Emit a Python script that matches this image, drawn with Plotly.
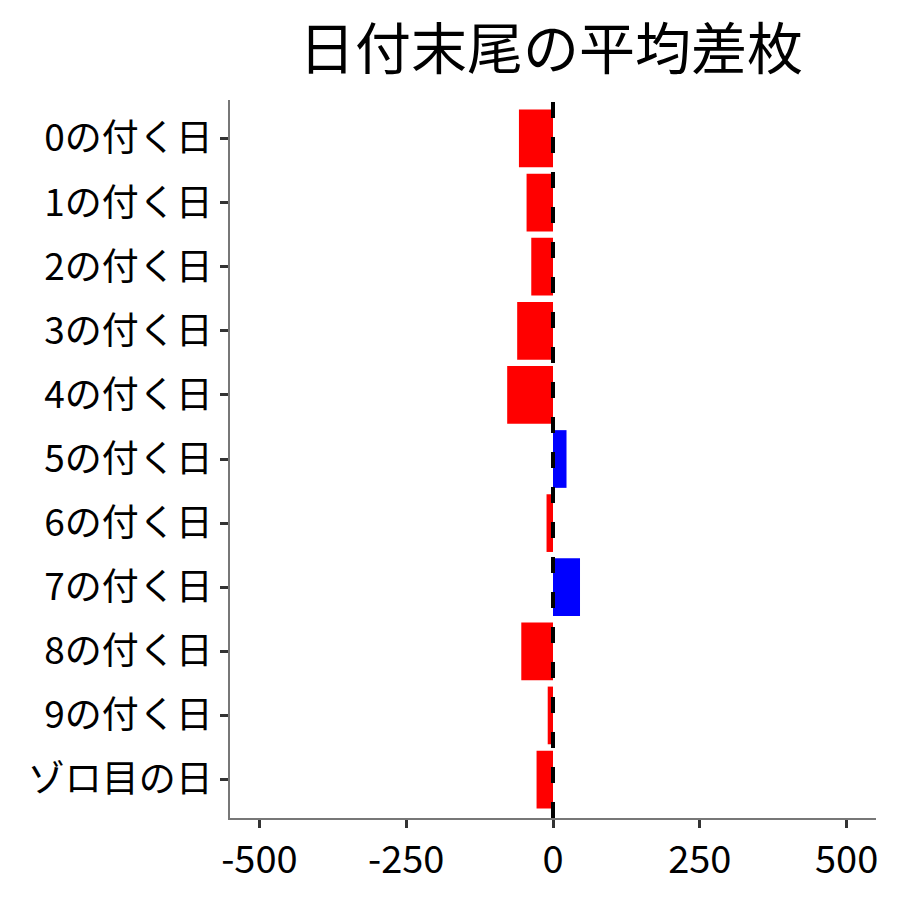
import plotly.graph_objects as go

categories = ["0の付く日", "1の付く日", "2の付く日", "3の付く日", "4の付く日",
              "5の付く日", "6の付く日", "7の付く日", "8の付く日", "9の付く日", "ゾロ目の日"]
avg_diff = [-58, -45, -37, -61, -78, 23, -11, 46, -54, -9, -28]
x_ticks = [-500, -250, 0, 250, 500]

colors = ["#0000FF" if v > 0 else "#FF0000" for v in avg_diff]

font = "Noto Sans CJK JP"

fig = go.Figure(go.Bar(
    x=avg_diff,
    y=categories,
    orientation="h",
    marker=dict(color=colors, line=dict(width=0)),
    width=0.9,
))

fig.add_shape(type="line", xref="x", yref="paper", x0=0, x1=0, y0=0, y1=1,
              line=dict(color="black", width=4, dash="16px,19px"), layer="above")

fig.update_layout(
    width=900, height=900,
    plot_bgcolor="white", paper_bgcolor="white",
    margin=dict(l=222, r=32, t=92, b=90),
    showlegend=False,
    font=dict(family=font, color="black", size=38),
    title=dict(text="日付末尾の平均差枚", x=(222 + 864) / 2 / 900, xanchor="center",
               y=1 - 41 / 900, yanchor="middle", font=dict(size=56, color="black", family=font)),
)
fig.update_xaxes(
    range=[-550, 550], tickvals=x_ticks, ticktext=[str(t) for t in x_ticks],
    showgrid=False, zeroline=False, showline=True, linecolor="#777", linewidth=1.5,
    ticks="outside", ticklen=8, tickwidth=3, tickcolor="#333",
    tickfont=dict(size=38, color="black"),
)
fig.update_yaxes(
    categoryorder="array", categoryarray=categories, range=[10.6, -0.6],
    showgrid=False, zeroline=False, showline=True, linecolor="#777", linewidth=1.5,
    ticks="outside", ticklen=8, tickwidth=3, tickcolor="#333",
    tickfont=dict(size=37, color="black"), automargin=False,
)

fig.write_html("out.html")
